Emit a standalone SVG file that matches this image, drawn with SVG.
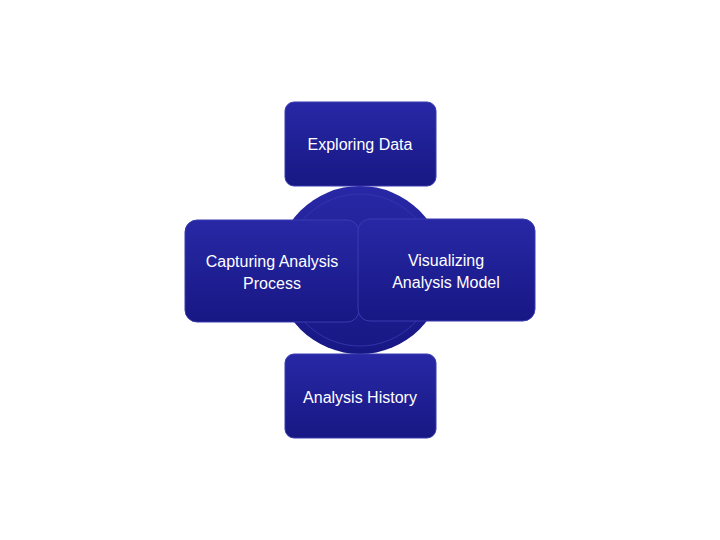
<svg xmlns="http://www.w3.org/2000/svg" width="720" height="540" viewBox="0 0 720 540">
<defs>
<linearGradient id="g" x1="0" y1="0" x2="0" y2="1"><stop offset="0" stop-color="#2828a6"/><stop offset="1" stop-color="#171784"/></linearGradient>
<style>.b{fill:url(#g);stroke:#3a3ab0;stroke-width:1}.t{fill:#fff;font-family:"Liberation Sans",Arial,sans-serif;font-size:16px;text-anchor:middle}</style>
</defs>
<rect width="720" height="540" fill="#fff"/>
<g id="hub"><circle cx="360" cy="270" r="84" fill="url(#g)"/><circle cx="360" cy="270" r="76" fill="none" stroke="#3434ac" stroke-width="1"/></g>
<g id="connectors"></g>
<g id="top"><rect class="b" x="285" y="102" width="151" height="84" rx="9"/><text class="t" x="360" y="150">Exploring Data</text></g>
<g id="left"><rect class="b" x="185" y="220" width="174" height="102" rx="12"/><text class="t" x="272" y="267">Capturing Analysis</text><text class="t" x="272" y="289">Process</text></g>
<g id="right"><rect class="b" x="358" y="219" width="177" height="102" rx="12"/><text class="t" x="446" y="266">Visualizing</text><text class="t" x="446" y="288">Analysis Model</text></g>
<g id="bottom"><rect class="b" x="285" y="354" width="151" height="84" rx="9"/><text class="t" x="360" y="403">Analysis History</text></g>
</svg>
